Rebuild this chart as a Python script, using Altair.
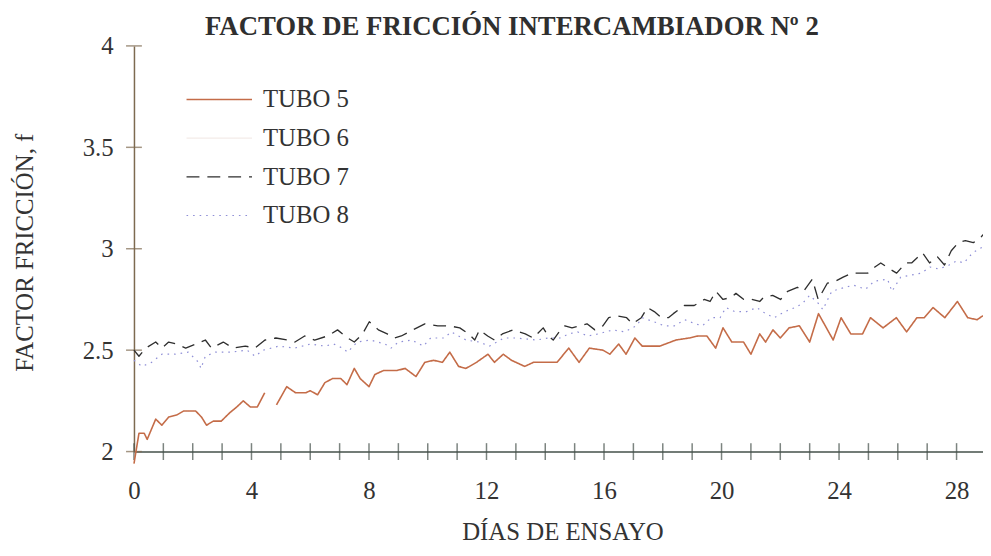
import altair as alt
import pandas as pd

TITLE = "FACTOR DE FRICCIÓN INTERCAMBIADOR Nº 2"
X_TITLE = "DÍAS DE ENSAYO"
Y_TITLE = "FACTOR FRICCIÓN, f"
SERIES = ["TUBO 5", "TUBO 6", "TUBO 7", "TUBO 8"]
X_LABELS = [0, 4, 8, 12, 16, 20, 24, 28]
X_MARKS = list(range(0, 29))
Y_MARKS = [2, 2.5, 3, 3.5, 4]

# TUBO 5 (None = gap in the trace)
T5_DAYS = [0.0, 0.17, 0.35, 0.45, 0.74, 0.95, 1.18, 1.45, 1.69, 2.1, 2.3, 2.47, 2.7, 2.97,
           3.25, 3.5, 3.72, 3.96, 4.2, 4.45, 4.6,
           4.85, 5.2, 5.5, 5.85, 6.0, 6.25, 6.5, 6.76, 7.04, 7.25, 7.5, 7.7, 8.0, 8.2, 8.5,
           8.96, 9.23, 9.6, 9.9, 10.2, 10.5, 10.75, 11.05, 11.3, 11.66, 12.05, 12.27, 12.57,
           12.85, 13.3, 13.6, 14.1, 14.4, 14.8, 15.15, 15.5, 15.96, 16.2, 16.5, 16.75, 17.05,
           17.3, 17.9, 18.45, 18.9, 19.2, 19.5, 19.8, 20.05, 20.35, 20.75, 21.0, 21.3, 21.5,
           21.75, 22.0, 22.3, 22.65, 23.0, 23.3, 23.8, 24.07, 24.4, 24.8, 25.07, 25.5, 25.95,
           26.3, 26.65, 26.9, 27.2, 27.6, 28.03, 28.38, 28.7, 28.9]
T5_VALS = [1.94, 2.09, 2.09, 2.06, 2.16, 2.13, 2.17, 2.18, 2.20, 2.20, 2.17, 2.13, 2.15, 2.15,
           2.19, 2.22, 2.25, 2.22, 2.22, 2.29, None,
           2.23, 2.32, 2.29, 2.29, 2.30, 2.28, 2.34, 2.36, 2.36, 2.33, 2.41, 2.36, 2.32, 2.38, 2.40,
           2.40, 2.41, 2.37, 2.44, 2.45, 2.44, 2.49, 2.42, 2.41, 2.44, 2.48, 2.44, 2.48,
           2.45, 2.42, 2.44, 2.44, 2.44, 2.51, 2.44, 2.51, 2.50, 2.48, 2.53, 2.48, 2.56,
           2.52, 2.52, 2.55, 2.56, 2.57, 2.57, 2.51, 2.61, 2.54, 2.54, 2.48, 2.58, 2.54,
           2.60, 2.56, 2.61, 2.62, 2.54, 2.68, 2.55, 2.66, 2.58, 2.58, 2.66, 2.61, 2.66,
           2.59, 2.66, 2.66, 2.71, 2.66, 2.74, 2.66, 2.65, 2.67]

# TUBO 6: trace not legible in the reference (drawn almost white)
T6_DAYS = []
T6_VALS = []

T7_DAYS = [0.0, 0.17, 0.4, 0.74, 0.95, 1.18, 1.45, 1.76, 2.1, 2.43, 2.64, 3.04, 3.38, 3.79,
           4.12, 4.46, 4.83, 5.24, 5.48, 5.81, 6.15, 6.59, 6.93, 7.27, 7.5, 7.78, 8.01, 8.32,
           8.62, 8.86, 9.1, 9.36, 9.63, 9.9, 10.34, 10.72, 11.09, 11.39, 11.6, 11.76, 12.04,
           12.27, 12.54, 12.91, 13.32, 13.59, 13.93, 14.1, 14.27, 14.47, 14.67, 14.91, 15.18,
           15.42, 15.69, 15.96, 16.16, 16.43, 16.77, 16.97, 17.27, 17.48, 17.71, 17.95, 18.19,
           18.36, 18.73, 19.07, 19.41, 19.61, 19.81, 20.05, 20.32, 20.49, 20.76, 21.03, 21.3,
           21.43, 21.74, 22.01, 22.25, 22.58, 22.79, 23.09, 23.29, 23.6, 23.87, 24.14, 24.44,
           24.81, 24.98, 25.22, 25.42, 25.73, 25.96, 26.27, 26.47, 26.84, 27.08, 27.35, 27.59,
           27.82, 28.06, 28.3, 28.57, 28.8, 28.9]
T7_VALS = [2.50, 2.47, 2.51, 2.54, 2.51, 2.54, 2.53, 2.51, 2.53, 2.55, 2.51, 2.54, 2.51, 2.52,
           2.51, 2.55, 2.56, 2.55, 2.54, 2.57, 2.55, 2.57, 2.60, 2.56, 2.54, 2.58, 2.64, 2.60,
           2.58, 2.56, 2.57, 2.59, 2.61, 2.63, 2.62, 2.62, 2.61, 2.58, 2.55, 2.60, 2.57,
           2.55, 2.58, 2.60, 2.58, 2.56, 2.61, 2.57, 2.55, 2.59, 2.62, 2.61, 2.62,
           2.63, 2.60, 2.62, 2.66, 2.67, 2.66, 2.63, 2.66, 2.71, 2.69, 2.66, 2.66,
           2.68, 2.72, 2.72, 2.75, 2.74, 2.79, 2.75, 2.76, 2.78, 2.75, 2.75, 2.74,
           2.76, 2.77, 2.75, 2.79, 2.81, 2.79, 2.85, 2.75, 2.83, 2.84, 2.86, 2.88,
           2.88, 2.88, 2.91, 2.93, 2.90, 2.88, 2.93, 2.93, 2.98, 2.93, 2.96, 2.92,
           2.99, 3.03, 3.04, 3.03, 3.05, 3.07]

T8_DAYS = [0.0, 0.27, 0.6, 0.95, 1.4, 1.85, 2.2, 2.28, 2.43, 2.77, 3.3, 3.85, 4.12, 4.4, 4.93,
           5.47, 6.0, 6.5, 6.8, 7.1, 7.27, 7.6, 8.05, 8.55, 8.75, 9.0, 9.45, 9.85, 10.1, 10.55,
           10.8, 11.3, 11.75, 12.1, 12.6, 13.0, 13.7, 14.1, 14.5, 14.8, 15.1, 15.45, 15.8, 16.3,
           16.7, 17.1, 17.3, 17.7, 18.05, 18.4, 18.75, 19.1, 19.35, 19.65, 19.95, 20.15, 20.45,
           20.85, 21.2, 21.5, 21.8, 22.15, 22.5, 22.75, 23.0, 23.3, 23.45, 23.75, 24.2, 24.5,
           24.9, 25.2, 25.65, 25.8, 26.1, 26.45, 26.8, 27.1, 27.4, 27.75, 28.0, 28.25, 28.55,
           28.9]
T8_VALS = [2.45, 2.42, 2.44, 2.48, 2.48, 2.49, 2.44, 2.41, 2.47, 2.49, 2.49, 2.50, 2.47, 2.50, 2.52,
           2.51, 2.53, 2.52, 2.53, 2.51, 2.49, 2.54, 2.55, 2.53, 2.51, 2.54, 2.55, 2.52, 2.56, 2.56,
           2.59, 2.55, 2.54, 2.52, 2.56, 2.56, 2.55, 2.56, 2.56, 2.58, 2.59, 2.57, 2.58, 2.60,
           2.59, 2.62, 2.66, 2.64, 2.62, 2.62, 2.65, 2.63, 2.62, 2.66, 2.66, 2.71, 2.69,
           2.69, 2.71, 2.68, 2.66, 2.69, 2.71, 2.73, 2.77, 2.73, 2.70, 2.79, 2.81, 2.82,
           2.80, 2.84, 2.85, 2.79, 2.86, 2.87, 2.88, 2.91, 2.90, 2.92, 2.94, 2.93, 2.98,
           3.01]

COLORS = ["#c46c48", "#f3ebe8", "#2e2e2e", "#8e8ed6"]
DASHES = [[1, 0], [1, 0], [13, 8], [1.6, 5]]
WIDTHS = [1.6, 1.2, 2.3, 1.8]
SERIF = "Liberation Serif"
TEXT = "#333333"

rows = []
for name, days, vals in [("TUBO 5", T5_DAYS, T5_VALS), ("TUBO 6", T6_DAYS, T6_VALS),
                         ("TUBO 7", T7_DAYS, T7_VALS), ("TUBO 8", T8_DAYS, T8_VALS)]:
    seg = 0
    for d, v in zip(days, vals):
        if v is None:
            seg += 1
            continue
        rows.append({"serie": name, "tramo": f"{name}-{seg}", "dia": d, "f": v})
df = pd.DataFrame(rows)

xscale = alt.Scale(domain=[0, 28.9], nice=False, zero=False)
yscale = alt.Scale(domain=[2, 4], nice=False, zero=False)
xaxis = alt.Axis(title=X_TITLE, values=X_LABELS, ticks=False, grid=False,
                 domainColor="#45504a", domainWidth=1.5,
                 labelFont=SERIF, labelFontSize=25, labelColor=TEXT, labelPadding=27,
                 labelFlush=False,
                 titleFont=SERIF, titleFontSize=25, titleFontWeight="normal", titleColor=TEXT,
                 titleBaseline="alphabetic", titleY=89, titleX=432)
yaxis = alt.Axis(title=Y_TITLE, values=Y_MARKS, format="~g", ticks=False, grid=False,
                 domainColor="#7d6a50", domainWidth=1.5,
                 labelFont=SERIF, labelFontSize=25, labelColor=TEXT, labelPadding=21,
                 titleFont=SERIF, titleFontSize=25, titleFontWeight="normal", titleColor=TEXT,
                 titleAngle=270, titleBaseline="alphabetic", titleAlign="center",
                 titleX=-102, titleY=208)

X = alt.X("dia:Q", scale=xscale, axis=xaxis)
Y = alt.Y("f:Q", scale=yscale, axis=yaxis)

leg = alt.Legend(title=None, orient="none", legendX=52, legendY=41,
                 symbolType="stroke", symbolSize=4356, clipHeight=26,
                 labelFont=SERIF, labelFontSize=25,
                 labelColor=TEXT, labelOffset=10, rowPadding=13, padding=0)

lines = alt.Chart(df).mark_line(strokeCap="butt", strokeJoin="round").encode(
    x=X, y=Y, detail="tramo:N",
    color=alt.Color("serie:N", scale=alt.Scale(domain=SERIES, range=COLORS), legend=leg),
    strokeDash=alt.StrokeDash("serie:N", scale=alt.Scale(domain=SERIES, range=DASHES), legend=leg),
    strokeWidth=alt.StrokeWidth("serie:N", scale=alt.Scale(domain=SERIES, range=WIDTHS), legend=leg),
)

ytick_df = pd.DataFrame({"dia": [0] * len(Y_MARKS), "f": Y_MARKS})
xtick_df = pd.DataFrame({"dia": X_MARKS, "f": [2] * len(X_MARKS)})

yticks = alt.Chart(ytick_df).mark_tick(orient="horizontal", size=16, thickness=1.5,
                                       color="#7d6a50").encode(x=X, y=Y)
xticks = alt.Chart(xtick_df).mark_tick(orient="vertical", size=17, thickness=1.5,
                                       color="#45504a").encode(x=X, y=Y)

chart = alt.layer(xticks, yticks, lines).properties(
    width=856, height=409,
    background="white",
    autosize=alt.AutoSizeParams(type="none"),
    padding={"left": 127, "top": 36, "right": 0, "bottom": 95},
    title=alt.Title(TITLE, font=SERIF, fontSize=27, fontWeight="bold", color="#2f2f2f",
                    anchor="middle", frame="group", dx=-47, dy=28, offset=0,
                    baseline="alphabetic"),
).configure_view(strokeWidth=0, stroke="transparent")

chart.save("out.html", embed_options={"renderer": "svg", "actions": False})
